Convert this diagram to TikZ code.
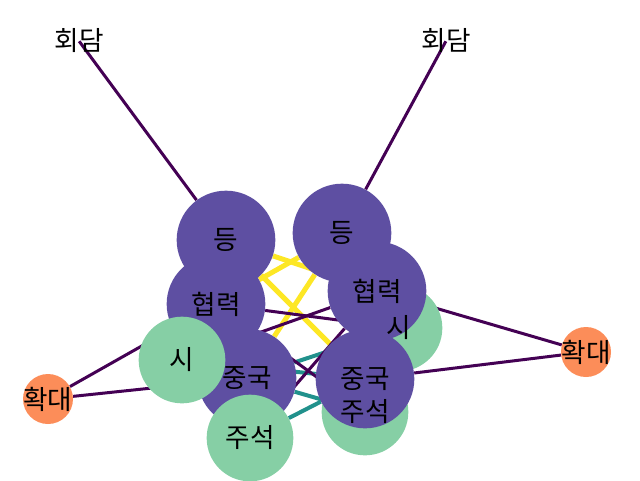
\documentclass[tikz,border=0pt]{standalone}
\usepackage{fontspec}
\setmainfont{Noto Sans CJK KR}
\usetikzlibrary{backgrounds}

\begin{document}
\begin{tikzpicture}[x=0.75pt,y=-0.75pt,every node/.style={font=\fontsize{20}{22}\selectfont},
    bignode/.style={circle,fill=nodepurple,minimum size=74pt,inner sep=0pt},
    midnode/.style={circle,fill=nodegreen,minimum size=65pt,inner sep=0pt},
    smallnode/.style={circle,fill=nodeorange,minimum size=37.5pt,inner sep=0pt},
    topnode/.style={inner sep=0pt,minimum size=0pt},
    lbl/.style={inner sep=0pt},
    weakedge/.style={draw=edgeweak,line width=2.25pt},
    midedge/.style={draw=edgemid,line width=3pt},
    strongedge/.style={draw=edgestrong,line width=3.75pt}]

    % Colors
    \definecolor{nodepurple}{RGB}{94,79,162}
    \definecolor{nodegreen}{RGB}{134,207,165}
    \definecolor{nodeorange}{RGB}{252,141,89}
    \definecolor{edgeweak}{RGB}{68,1,84}
    \definecolor{edgemid}{RGB}{33,145,140}
    \definecolor{edgestrong}{RGB}{253,231,37}

    \useasboundingbox (0,0) rectangle (640,480);

    % ======================
    % Nodes (left group)
    % ======================
    \node[topnode] (hoeL) at (79,41) {};
    \node[bignode] (dengL) at (226,240) {};
    \node[bignode] (hyeopL) at (216,304) {};
    \node[bignode] (jungL) at (247,378) {};
    \node[midnode] (siL) at (182,360) {};
    \node[midnode] (jusL) at (250,438) {};
    \node[smallnode] (hwakL) at (48,399) {};

    % ======================
    % Nodes (right group)
    % ======================
    \node[topnode] (hoeR) at (446,41) {};
    \node[midnode] (siR) at (399,328) {};
    \node[midnode] (jusR) at (365,412) {};
    \node[bignode] (dengR) at (342,233) {};
    \node[bignode] (hyeopR) at (377,291) {};
    \node[bignode] (jungR) at (365,379) {};
    \node[smallnode] (hwakR) at (586,352) {};

    % ======================
    % Edges (under the nodes)
    % ======================
    \begin{scope}[on background layer]
    % strong
    \draw[strongedge] (dengL) -- (hyeopR);
    \draw[strongedge] (hyeopL) -- (dengR);
    \draw[strongedge] (dengL) -- (jungR);
    \draw[strongedge] (jungL) -- (dengR);
    % mid
    \draw[midedge] (jungL) -- (siR);
    \draw[midedge] (siL) -- (jungR);
    \draw[midedge] (jungL) -- (jusR);
    \draw[midedge] (jusL) -- (jungR);
    % weak
    \draw[weakedge] (hoeL) -- (dengL);
    \draw[weakedge] (hoeR) -- (dengR);
    \draw[weakedge] (hwakL) -- (hyeopL);
    \draw[weakedge] (hwakL) -- (jungL);
    \draw[weakedge] (hwakR) -- (hyeopR);
    \draw[weakedge] (hwakR) -- (jungR);
    \draw[weakedge] (hyeopL) -- (siR);
    \draw[weakedge] (siL) -- (hyeopR);
    \draw[weakedge] (hyeopL) -- (jusR);
    \draw[weakedge] (jusL) -- (hyeopR);
    \end{scope}

    % ======================
    % Labels (on top)
    % ======================
    \node[lbl] (hoeLlbl) at (hoeL) {회담};
    \node[lbl] (dengLlbl) at (dengL) {등};
    \node[lbl] (hyeopLlbl) at (hyeopL) {협력};
    \node[lbl] (jungLlbl) at (jungL) {중국};
    \node[lbl] (siLlbl) at (siL) {시};
    \node[lbl] (jusLlbl) at (jusL) {주석};
    \node[lbl] (hwakLlbl) at (hwakL) {확대};

    \node[lbl] (hoeRlbl) at (hoeR) {회담};
    \node[lbl] (dengRlbl) at (dengR) {등};
    \node[lbl] (hyeopRlbl) at (hyeopR) {협력};
    \node[lbl] (jungRlbl) at (jungR) {중국};
    \node[lbl] (siRlbl) at (siR) {시};
    \node[lbl] (jusRlbl) at (jusR) {주석};
    \node[lbl] (hwakRlbl) at (hwakR) {확대};

\end{tikzpicture}
\end{document}
